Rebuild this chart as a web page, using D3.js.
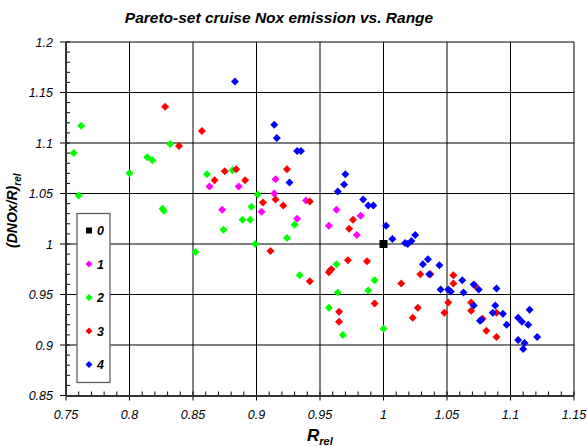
<!DOCTYPE html>
<html><head><meta charset="utf-8">
<script src="https://cdn.jsdelivr.net/npm/d3@7"></script>
<style>
html,body{margin:0;padding:0;background:#fff;}
svg{display:block;font-family:"Liberation Sans",Arial,sans-serif;}
</style></head>
<body><svg id="c" width="587" height="446"></svg>
<script>
const seriesNames = ["0","1","2","3","4"];
const seriesColors = ["#000000","#FF00FF","#00FF00","#FF0000","#0000FF"];
const xTicks = [0.75,0.8,0.85,0.9,0.95,1,1.05,1.1,1.15];
const yTicks = [0.85,0.9,0.95,1,1.05,1.1,1.15,1.2];

const s0 = [[1.000,1.000]];
const s1 = [[0.863,1.057],[0.886,1.057],[0.873,1.034],[0.915,1.064],[0.914,1.050],[0.939,1.043],
  [0.904,1.032],[0.932,1.025],[0.963,1.034],[0.982,1.028],[0.957,1.018],[0.979,1.009]];
const s2 = [[0.762,1.117],[0.832,1.099],[0.756,1.090],[0.814,1.086],[0.818,1.083],[0.800,1.070],
  [0.861,1.069],[0.881,1.073],[0.760,1.048],[0.901,1.049],[0.826,1.035],[0.827,1.033],
  [0.896,1.037],[0.889,1.024],[0.895,1.024],[0.874,1.014],[0.899,1.000],[0.852,0.992],
  [0.930,1.019],[0.924,1.006],[0.963,0.980],[0.934,0.969],[0.993,0.964],[0.964,0.952],
  [0.988,0.954],[0.957,0.937],[0.968,0.910],[1.000,0.916]];
const s3 = [[0.828,1.136],[0.857,1.112],[0.839,1.097],[0.875,1.072],[0.884,1.074],[0.867,1.063],
  [0.891,1.063],[0.924,1.074],[0.915,1.044],[0.905,1.041],[0.921,1.038],[0.942,1.042],
  [0.976,1.024],[0.973,1.015],[0.911,0.993],[0.972,0.984],[0.987,0.983],[0.959,0.975],
  [0.958,0.974],[0.957,0.972],[0.942,0.963],[1.014,0.961],[1.029,0.970],[1.037,0.970],
  [0.993,0.941],[0.965,0.933],[0.965,0.923],[1.027,0.937],[1.023,0.927],[1.048,0.932],
  [1.051,0.942],[1.055,0.969],[1.055,0.961],[1.072,0.959],[1.069,0.942],[1.069,0.934],
  [1.078,0.926],[1.089,0.932],[1.081,0.914],[1.089,0.908]];
const s4 = [[0.883,1.161],[0.914,1.118],[0.916,1.105],[0.932,1.092],[0.935,1.092],[0.926,1.061],
  [0.970,1.069],[0.969,1.059],[0.964,1.052],[0.984,1.044],[0.988,1.038],[0.992,1.038],
  [1.002,1.018],[1.007,1.005],[1.017,1.001],[1.019,1.000],[1.022,1.003],[1.025,1.009],
  [1.031,0.980],[1.035,0.985],[1.036,0.970],[1.044,0.979],[1.045,0.955],[1.051,0.955],
  [1.053,0.953],[1.062,0.964],[1.071,0.960],[1.075,0.955],[1.089,0.956],[1.063,0.952],
  [1.071,0.939],[1.076,0.924],[1.077,0.925],[1.088,0.939],[1.086,0.932],[1.094,0.931],
  [1.097,0.920],[1.106,0.927],[1.109,0.923],[1.115,0.935],[1.114,0.920],[1.121,0.908],
  [1.106,0.905],[1.111,0.902],[1.110,0.896]];
const allSeries = [s0,s1,s2,s3,s4];

const svg = d3.select("#c");
const x = d3.scaleLinear().domain([0.75,1.15]).range([66,574]);
const y = d3.scaleLinear().domain([0.85,1.2]).range([395.5,42]);
const fmt = d => String(+d.toFixed(2));

// gridlines
const g = svg.append("g");
g.selectAll("line.vx").data(xTicks.slice(1)).enter().append("line")
  .attr("x1",d=>x(d)).attr("x2",d=>x(d)).attr("y1",y(1.2)).attr("y2",y(0.85))
  .attr("stroke","#000").attr("stroke-width",1);
g.selectAll("line.hy").data(yTicks.slice(1)).enter().append("line")
  .attr("y1",d=>y(d)).attr("y2",d=>y(d)).attr("x1",x(0.75)).attr("x2",x(1.15))
  .attr("stroke","#000").attr("stroke-width",1);

// minor ticks
const xMinor = d3.range(0,41).map(i=>0.75+i*0.01);
const yMinor = d3.range(0,36).map(i=>0.85+i*0.01);
g.selectAll("line.xm").data(xMinor).enter().append("line")
  .attr("x1",d=>x(d)).attr("x2",d=>x(d)).attr("y1",y(0.85)-4).attr("y2",y(0.85))
  .attr("stroke","#000").attr("stroke-width",1);
g.selectAll("line.ym").data(yMinor).enter().append("line")
  .attr("y1",d=>y(d)).attr("y2",d=>y(d)).attr("x1",x(0.75)).attr("x2",x(0.75)+4)
  .attr("stroke","#000").attr("stroke-width",1);
// major ticks
g.selectAll("line.xM").data(xTicks).enter().append("line")
  .attr("x1",d=>x(d)).attr("x2",d=>x(d)).attr("y1",y(0.85)).attr("y2",y(0.85)+5)
  .attr("stroke","#000").attr("stroke-width",1);
g.selectAll("line.yM").data(yTicks).enter().append("line")
  .attr("y1",d=>y(d)).attr("y2",d=>y(d)).attr("x1",x(0.75)-6).attr("x2",x(0.75))
  .attr("stroke","#000").attr("stroke-width",1);
// axes lines
g.append("line").attr("x1",x(0.75)).attr("x2",x(0.75)).attr("y1",y(1.2)).attr("y2",y(0.85))
  .attr("stroke","#333").attr("stroke-width",2);
g.append("line").attr("x1",x(0.75)).attr("x2",x(1.15)).attr("y1",396).attr("y2",396)
  .attr("stroke","#333").attr("stroke-width",2);

// tick labels
svg.selectAll("text.xl").data(xTicks).enter().append("text")
  .attr("x",d=>x(d)).attr("y",419).attr("text-anchor","middle")
  .attr("font-size","12.5px").attr("font-style","italic").text(fmt);
svg.selectAll("text.yl").data(yTicks).enter().append("text")
  .attr("x",53).attr("y",d=>y(d)+4.5).attr("text-anchor","end")
  .attr("font-size","12.5px").attr("font-style","italic").text(fmt);

// title
svg.append("text").attr("x",279).attr("y",23).attr("text-anchor","middle")
  .attr("font-size","15.5px").attr("font-weight","bold").attr("font-style","italic")
  .text("Pareto-set cruise Nox emission vs. Range");

// axis titles
const xt = svg.append("text").attr("x",307).attr("y",441)
  .attr("font-weight","bold").attr("font-style","italic");
xt.append("tspan").attr("font-size","17px").text("R");
xt.append("tspan").attr("font-size","11px").attr("dy",4).text("rel");

const yt = svg.append("text").attr("transform","translate(17,248) rotate(-90)")
  .attr("font-weight","bold").attr("font-style","italic");
yt.append("tspan").attr("font-size","14px").text("(DNOx/R)");
yt.append("tspan").attr("font-size","10px").attr("dy",4).text("rel");

// points
const dia = r => `M0,${-r}L${r},0L0,${r}L${-r},0Z`;
allSeries.forEach((data,i)=>{
  const sg = svg.append("g");
  if(i===0){
    sg.selectAll("rect").data(data).enter().append("rect")
      .attr("x",d=>x(d[0])-4).attr("y",d=>y(d[1])-4).attr("width",8).attr("height",8)
      .attr("fill",seriesColors[i]);
  } else {
    sg.selectAll("path").data(data).enter().append("path")
      .attr("d",dia(4)).attr("transform",d=>`translate(${x(d[0])},${y(d[1])})`)
      .attr("fill",seriesColors[i]);
  }
});

// legend
const lg = svg.append("g");
lg.append("rect").attr("x",77).attr("y",213.5).attr("width",33).attr("height",169)
  .attr("fill","#fff").attr("stroke","#555").attr("stroke-width",1.2);
seriesNames.forEach((nm,i)=>{
  const cy = 230.5 + i*33.5;
  if(i===0){
    lg.append("rect").attr("x",86).attr("y",cy-3).attr("width",6).attr("height",6).attr("fill",seriesColors[i]);
  } else {
    lg.append("path").attr("d",dia(3.5))
      .attr("transform",`translate(89,${cy})`).attr("fill",seriesColors[i]);
  }
  lg.append("text").attr("x",97).attr("y",cy+4.5).attr("font-size","12.5px")
    .attr("font-weight","bold").attr("font-style","italic").text(nm);
});
</script></body></html>
